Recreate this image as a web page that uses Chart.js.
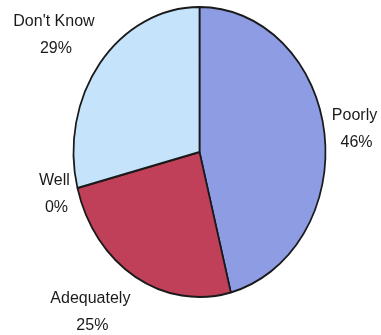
<!DOCTYPE html>
<html>
<head>
<meta charset="utf-8">
<script src="https://cdn.jsdelivr.net/npm/chart.js@4/dist/chart.umd.min.js"></script>
<style>
  html, body { margin: 0; padding: 0; background: #fff; }
  #wrap { width: 381px; height: 335px; position: relative; }
</style>
</head>
<body>
<div id="wrap"><canvas id="pieChart" width="381" height="335"></canvas></div>
<script>
const categories = ["Poorly", "Adequately", "Well", "Don't Know"];
const shares = [46, 25, 0, 29];
const shareLabels = ["46%", "25%", "0%", "29%"];

const sliceColors = ["#8d9ce3", "#c0405a", "#c5e3fa", "#c5e3fa"];

// the pie is drawn squashed sideways (taller than wide)
const squashX = 126 / 145;

// where each label sits, relative to the rim point at the slice's middle angle
const labelOffsets = [[30, 0], [-45, 40], [-23, 10], [-46, -24]];

const ellipsePlugin = {
  id: "ellipse",
  beforeDatasetsDraw(chart) {
    const arc = chart.getDatasetMeta(0).data[0];
    const ctx = chart.ctx;
    ctx.save();
    ctx.translate(arc.x, arc.y);
    ctx.scale(squashX, 1);
    ctx.translate(-arc.x, -arc.y);
  },
  afterDatasetsDraw(chart) {
    chart.ctx.restore();
  }
};

const outsideLabels = {
  id: "outsideLabels",
  afterDraw(chart) {
    const ctx = chart.ctx;
    const arcs = chart.getDatasetMeta(0).data;
    ctx.save();
    ctx.font = "16px 'Liberation Sans', Arial, sans-serif";
    ctx.fillStyle = "#1a1a1a";
    ctx.textAlign = "center";
    ctx.textBaseline = "alphabetic";
    arcs.forEach((arc, i) => {
      const mid = (arc.startAngle + arc.endAngle) / 2;
      const rimX = arc.x + Math.cos(mid) * arc.outerRadius * squashX;
      const rimY = arc.y + Math.sin(mid) * arc.outerRadius;
      const x = rimX + labelOffsets[i][0];
      const y = rimY + labelOffsets[i][1];
      ctx.fillText(categories[i], x, y - 13.5);
      ctx.fillText(shareLabels[i], x + 2, y + 13.5);
    });
    ctx.restore();
  }
};

new Chart(document.getElementById("pieChart"), {
  type: "pie",
  data: {
    labels: categories,
    datasets: [{
      data: shares,
      backgroundColor: sliceColors,
      borderColor: "#1a1a1a",
      borderWidth: 2,
      radius: 145
    }]
  },
  options: {
    responsive: false,
    animation: false,
    events: [],
    layout: { padding: { top: 0, bottom: 31, left: 18, right: 0 } },
    plugins: {
      legend: { display: false },
      tooltip: { enabled: false }
    }
  },
  plugins: [ellipsePlugin, outsideLabels]
});
</script>
</body>
</html>
